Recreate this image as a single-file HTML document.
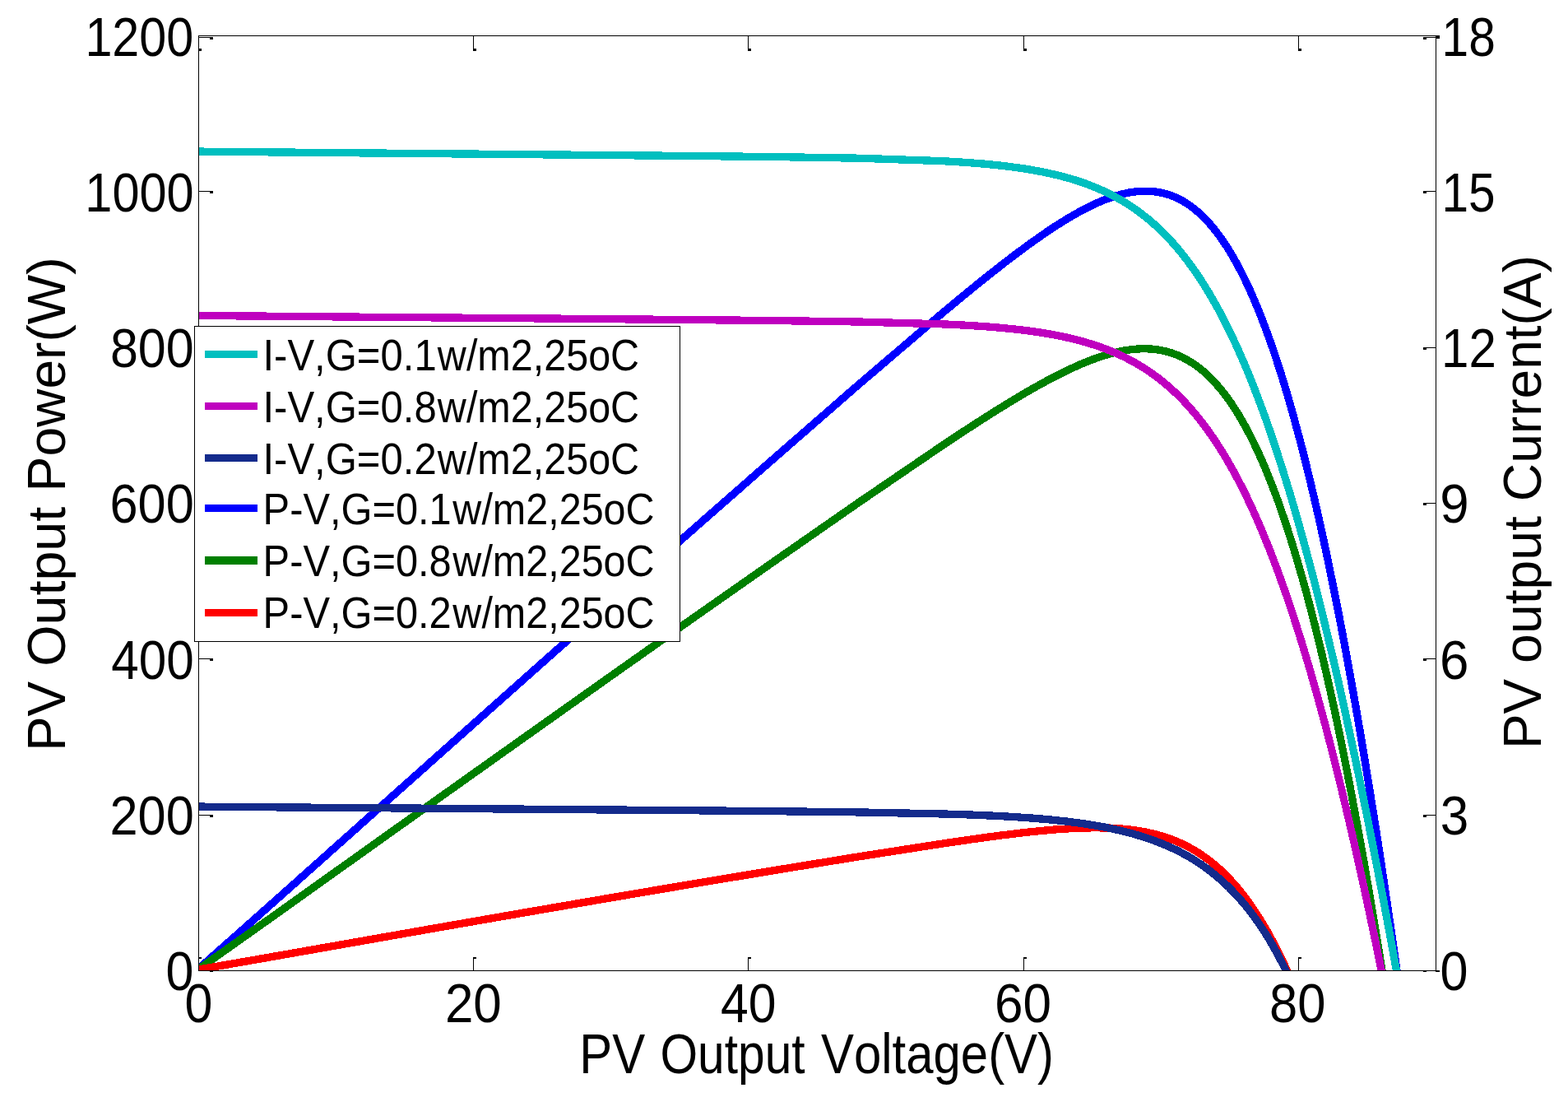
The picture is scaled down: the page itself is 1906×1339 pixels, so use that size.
<!DOCTYPE html>
<html lang="en">
<head>
<meta charset="utf-8">
<title>PV Output Power and Current vs Voltage</title>
<style>
html,body{margin:0;padding:0;background:#fff;}
body{width:1906px;height:1339px;overflow:hidden;}
svg{display:block;}
text{font-family:"Liberation Sans",sans-serif;fill:#000;font-kerning:none;font-variant-ligatures:none;white-space:pre;}
</style>
</head>
<body>
<svg width="1906" height="1339" viewBox="0 0 1906 1339">
<rect x="0" y="0" width="1906" height="1339" fill="#ffffff"/>
<defs><clipPath id="ax"><rect x="241.0" y="43.0" width="1505.0" height="1137.0"/></clipPath></defs>
<g id="curves" fill="none" stroke-width="9.3" stroke-linejoin="round" stroke-linecap="butt" shape-rendering="crispEdges" clip-path="url(#ax)">
<path stroke="#0000ff" d="M241.5 1177.0 L341.8 1088.0 L442.0 998.6 L542.3 909.2 L642.6 820.0 L742.8 731.2 L843.1 642.7 L943.4 554.7 L1043.6 467.4 L1143.9 381.8 L1160.6 367.9 L1165.6 363.7 L1170.7 359.6 L1175.7 355.5 L1180.7 351.4 L1185.7 347.3 L1190.7 343.2 L1195.8 339.2 L1200.8 335.2 L1205.8 331.2 L1210.8 327.3 L1215.9 323.3 L1220.9 319.4 L1225.9 315.6 L1230.9 311.7 L1235.9 307.9 L1241.0 304.2 L1246.0 300.5 L1251.0 296.8 L1256.0 293.2 L1261.1 289.7 L1266.1 286.1 L1271.1 282.7 L1276.1 279.3 L1281.1 276.0 L1286.2 272.8 L1291.2 269.6 L1296.2 266.5 L1301.2 263.5 L1306.3 260.6 L1311.3 257.8 L1316.3 255.1 L1321.3 252.5 L1326.3 250.0 L1331.4 247.6 L1336.4 245.4 L1341.4 243.3 L1346.4 241.4 L1351.5 239.6 L1356.5 238.0 L1361.5 236.5 L1366.5 235.3 L1371.5 234.2 L1376.6 233.4 L1381.6 232.7 L1386.6 232.3 L1391.6 232.2 L1396.6 232.3 L1401.7 232.6 L1406.7 233.3 L1411.7 234.2 L1416.7 235.4 L1421.8 237.0 L1426.8 238.9 L1431.8 241.1 L1436.8 243.7 L1441.8 246.7 L1446.9 250.1 L1451.9 253.9 L1456.9 258.2 L1461.9 262.8 L1467.0 268.0 L1472.0 273.6 L1477.0 279.7 L1482.0 286.3 L1487.0 293.4 L1492.1 301.0 L1497.1 309.2 L1502.1 318.0 L1507.1 327.3 L1512.2 337.3 L1517.2 347.8 L1522.2 358.9 L1527.2 370.7 L1532.2 383.1 L1537.3 396.1 L1542.3 409.8 L1547.3 424.1 L1552.3 439.1 L1557.4 454.8 L1562.4 471.2 L1567.4 488.2 L1572.4 506.0 L1577.4 524.5 L1582.5 543.6 L1587.5 563.5 L1592.5 584.0 L1597.5 605.3 L1602.6 627.3 L1607.6 650.0 L1612.6 673.4 L1617.6 697.6 L1622.6 722.4 L1627.7 748.0 L1632.7 774.2 L1637.7 801.2 L1642.7 828.9 L1647.8 857.3 L1652.8 886.4 L1657.8 916.2 L1662.8 946.7 L1667.8 977.8 L1672.9 1009.7 L1677.9 1042.3 L1682.9 1075.5 L1687.9 1109.5 L1693.0 1144.1 L1698.0 1179.4 L1703.0 1215.3 L1708.0 1251.9"/>
<path stroke="#007f00" d="M241.5 1177.5 L341.8 1106.4 L442.0 1034.9 L542.3 963.5 L642.6 892.3 L742.8 821.3 L843.1 750.6 L943.4 680.4 L1043.6 610.7 L1143.9 542.4 L1160.6 531.3 L1165.5 528.1 L1170.3 524.9 L1175.2 521.7 L1180.0 518.6 L1184.9 515.4 L1189.8 512.3 L1194.6 509.2 L1199.5 506.1 L1204.3 503.0 L1209.2 499.9 L1214.0 496.9 L1218.9 493.9 L1223.8 490.9 L1228.6 488.0 L1233.5 485.0 L1238.3 482.1 L1243.2 479.2 L1248.0 476.4 L1252.9 473.6 L1257.8 470.8 L1262.6 468.1 L1267.5 465.4 L1272.3 462.8 L1277.2 460.2 L1282.0 457.7 L1286.9 455.2 L1291.8 452.8 L1296.6 450.4 L1301.5 448.1 L1306.3 445.9 L1311.2 443.7 L1316.0 441.6 L1320.9 439.6 L1325.8 437.7 L1330.6 435.9 L1335.5 434.2 L1340.3 432.6 L1345.2 431.1 L1350.0 429.7 L1354.9 428.5 L1359.8 427.3 L1364.6 426.3 L1369.5 425.5 L1374.3 424.8 L1379.2 424.3 L1384.0 423.9 L1388.9 423.8 L1393.8 423.8 L1398.6 424.0 L1403.5 424.4 L1408.3 425.1 L1413.2 426.0 L1418.0 427.1 L1422.9 428.5 L1427.8 430.2 L1432.6 432.1 L1437.5 434.3 L1442.3 436.9 L1447.2 439.7 L1452.1 442.9 L1456.9 446.4 L1461.8 450.3 L1466.6 454.6 L1471.5 459.3 L1476.3 464.3 L1481.2 469.8 L1486.1 475.7 L1490.9 482.0 L1495.8 488.8 L1500.6 496.1 L1505.5 503.8 L1510.3 512.1 L1515.2 520.8 L1520.1 530.1 L1524.9 539.9 L1529.8 550.2 L1534.6 561.1 L1539.5 572.6 L1544.3 584.7 L1549.2 597.3 L1554.1 610.5 L1558.9 624.4 L1563.8 638.8 L1568.6 653.9 L1573.5 669.6 L1578.3 685.9 L1583.2 702.9 L1588.1 720.5 L1592.9 738.8 L1597.8 757.7 L1602.6 777.3 L1607.5 797.6 L1612.3 818.5 L1617.2 840.1 L1622.1 862.3 L1626.9 885.2 L1631.8 908.8 L1636.6 933.1 L1641.5 958.0 L1646.3 983.6 L1651.2 1009.9 L1656.1 1036.8 L1660.9 1064.4 L1665.8 1092.7 L1670.6 1121.6 L1675.5 1151.2 L1680.3 1181.5 L1685.2 1212.4 L1690.1 1243.9"/>
<path stroke="#ff0000" d="M241.5 1178.1 L341.8 1160.6 L442.0 1143.0 L542.3 1125.4 L642.6 1108.0 L742.8 1090.8 L843.1 1073.8 L943.4 1057.2 L1043.6 1040.9 L1143.9 1025.3 L1160.6 1022.8 L1164.4 1022.3 L1168.2 1021.7 L1172.0 1021.2 L1175.8 1020.6 L1179.6 1020.1 L1183.4 1019.5 L1187.2 1019.0 L1191.0 1018.5 L1194.8 1018.0 L1198.6 1017.4 L1202.4 1016.9 L1206.2 1016.4 L1210.0 1015.9 L1213.8 1015.4 L1217.6 1014.9 L1221.4 1014.5 L1225.2 1014.0 L1229.0 1013.5 L1232.8 1013.1 L1236.6 1012.6 L1240.4 1012.2 L1244.2 1011.7 L1248.0 1011.3 L1251.8 1010.9 L1255.6 1010.5 L1259.4 1010.1 L1263.2 1009.7 L1267.0 1009.4 L1270.8 1009.0 L1274.6 1008.7 L1278.4 1008.3 L1282.2 1008.0 L1286.0 1007.7 L1289.8 1007.5 L1293.6 1007.2 L1297.4 1007.0 L1301.2 1006.7 L1305.0 1006.5 L1308.7 1006.4 L1312.5 1006.2 L1316.3 1006.1 L1320.1 1006.0 L1323.9 1005.9 L1327.7 1005.8 L1331.5 1005.8 L1335.3 1005.8 L1339.1 1005.9 L1342.9 1005.9 L1346.7 1006.0 L1350.5 1006.2 L1354.3 1006.4 L1358.1 1006.6 L1361.9 1006.9 L1365.7 1007.2 L1369.5 1007.6 L1373.3 1008.0 L1377.1 1008.5 L1380.9 1009.0 L1384.7 1009.6 L1388.5 1010.3 L1392.3 1011.0 L1396.1 1011.8 L1399.9 1012.6 L1403.7 1013.5 L1407.5 1014.5 L1411.3 1015.6 L1415.1 1016.8 L1418.9 1018.1 L1422.7 1019.4 L1426.5 1020.8 L1430.3 1022.4 L1434.1 1024.0 L1437.9 1025.8 L1441.7 1027.6 L1445.5 1029.6 L1449.3 1031.7 L1453.1 1034.0 L1456.9 1036.3 L1460.7 1038.8 L1464.5 1041.5 L1468.3 1044.2 L1472.1 1047.2 L1475.9 1050.3 L1479.7 1053.5 L1483.5 1056.9 L1487.3 1060.5 L1491.1 1064.3 L1494.9 1068.3 L1498.7 1072.4 L1502.5 1076.7 L1506.3 1081.3 L1510.1 1086.0 L1513.9 1090.9 L1517.7 1096.1 L1521.5 1101.5 L1525.3 1107.1 L1529.1 1112.9 L1532.9 1119.0 L1536.7 1125.3 L1540.5 1131.8 L1544.3 1138.6 L1548.1 1145.7 L1551.8 1153.0 L1555.6 1160.6 L1559.4 1168.4 L1563.2 1176.5 L1567.0 1184.9 L1570.8 1193.6 L1574.6 1202.5"/>
<path stroke="#00bfbf" d="M241.5 184.1 L341.8 185.0 L442.0 185.9 L542.3 186.8 L642.6 187.7 L742.8 188.6 L843.1 189.5 L943.4 190.6 L1043.6 192.2 L1143.9 195.6 L1160.6 196.5 L1165.6 196.8 L1170.6 197.2 L1175.7 197.5 L1180.7 197.9 L1185.7 198.3 L1190.7 198.7 L1195.7 199.1 L1200.8 199.6 L1205.8 200.1 L1210.8 200.6 L1215.8 201.1 L1220.8 201.7 L1225.8 202.3 L1230.9 203.0 L1235.9 203.6 L1240.9 204.4 L1245.9 205.1 L1250.9 205.9 L1256.0 206.8 L1261.0 207.7 L1266.0 208.6 L1271.0 209.7 L1276.0 210.7 L1281.0 211.9 L1286.1 213.1 L1291.1 214.3 L1296.1 215.7 L1301.1 217.1 L1306.1 218.6 L1311.1 220.2 L1316.2 221.9 L1321.2 223.7 L1326.2 225.6 L1331.2 227.6 L1336.2 229.8 L1341.3 232.0 L1346.3 234.4 L1351.3 236.9 L1356.3 239.6 L1361.3 242.4 L1366.3 245.3 L1371.4 248.4 L1376.4 251.7 L1381.4 255.2 L1386.4 258.9 L1391.4 262.8 L1396.5 266.8 L1401.5 271.1 L1406.5 275.7 L1411.5 280.4 L1416.5 285.4 L1421.5 290.7 L1426.6 296.2 L1431.6 302.0 L1436.6 308.1 L1441.6 314.5 L1446.6 321.2 L1451.7 328.2 L1456.7 335.5 L1461.7 343.2 L1466.7 351.2 L1471.7 359.5 L1476.7 368.3 L1481.8 377.4 L1486.8 386.9 L1491.8 396.8 L1496.8 407.0 L1501.8 417.7 L1506.8 428.8 L1511.9 440.4 L1516.9 452.3 L1521.9 464.7 L1526.9 477.6 L1531.9 490.8 L1537.0 504.6 L1542.0 518.7 L1547.0 533.4 L1552.0 548.5 L1557.0 564.0 L1562.0 580.0 L1567.1 596.5 L1572.1 613.4 L1577.1 630.8 L1582.1 648.7 L1587.1 667.0 L1592.2 685.8 L1597.2 705.0 L1602.2 724.7 L1607.2 744.9 L1612.2 765.5 L1617.2 786.5 L1622.3 808.0 L1627.3 829.9 L1632.3 852.3 L1637.3 875.0 L1642.3 898.2 L1647.4 921.8 L1652.4 945.8 L1657.4 970.3 L1662.4 995.1 L1667.4 1020.3 L1672.4 1045.9 L1677.5 1071.9 L1682.5 1098.2 L1687.5 1124.9 L1692.5 1152.0 L1697.5 1179.4 L1702.5 1207.2 L1707.6 1235.4"/>
<path stroke="#bf00bf" d="M241.5 383.5 L341.8 384.3 L442.0 385.2 L542.3 386.0 L642.6 386.8 L742.8 387.7 L843.1 388.6 L943.4 389.6 L1043.6 391.0 L1143.9 393.8 L1160.6 394.5 L1165.5 394.8 L1170.3 395.0 L1175.2 395.3 L1180.0 395.6 L1184.9 395.9 L1189.7 396.2 L1194.6 396.5 L1199.4 396.9 L1204.3 397.3 L1209.1 397.7 L1214.0 398.1 L1218.8 398.5 L1223.7 399.0 L1228.5 399.5 L1233.4 400.0 L1238.2 400.5 L1243.1 401.1 L1247.9 401.7 L1252.8 402.3 L1257.6 403.0 L1262.5 403.7 L1267.3 404.5 L1272.2 405.3 L1277.0 406.1 L1281.9 407.0 L1286.7 407.9 L1291.6 408.9 L1296.4 410.0 L1301.3 411.1 L1306.1 412.3 L1311.0 413.5 L1315.8 414.8 L1320.7 416.2 L1325.5 417.7 L1330.4 419.2 L1335.2 420.8 L1340.1 422.6 L1344.9 424.4 L1349.8 426.3 L1354.6 428.3 L1359.5 430.5 L1364.3 432.7 L1369.2 435.1 L1374.0 437.6 L1378.9 440.3 L1383.7 443.1 L1388.6 446.0 L1393.4 449.1 L1398.3 452.4 L1403.1 455.8 L1408.0 459.4 L1412.8 463.2 L1417.7 467.3 L1422.5 471.5 L1427.4 475.9 L1432.2 480.5 L1437.1 485.4 L1441.9 490.5 L1446.8 495.9 L1451.6 501.5 L1456.5 507.4 L1461.3 513.6 L1466.2 520.0 L1471.0 526.8 L1475.9 533.8 L1480.7 541.2 L1485.6 548.9 L1490.4 556.9 L1495.3 565.2 L1500.1 573.9 L1505.0 583.0 L1509.8 592.4 L1514.7 602.2 L1519.5 612.4 L1524.4 622.9 L1529.2 633.9 L1534.1 645.2 L1538.9 657.0 L1543.8 669.1 L1548.6 681.7 L1553.5 694.7 L1558.3 708.1 L1563.2 721.9 L1568.0 736.1 L1572.9 750.8 L1577.7 765.9 L1582.6 781.5 L1587.4 797.4 L1592.3 813.8 L1597.1 830.7 L1602.0 848.0 L1606.8 865.7 L1611.7 883.8 L1616.5 902.3 L1621.4 921.3 L1626.2 940.7 L1631.1 960.6 L1635.9 980.8 L1640.8 1001.5 L1645.6 1022.5 L1650.5 1044.0 L1655.3 1065.9 L1660.2 1088.2 L1665.0 1110.8 L1669.9 1133.9 L1674.7 1157.3 L1679.6 1181.1 L1684.4 1205.3 L1689.3 1229.8"/>
<path stroke="#142b8c" d="M241.5 980.1 L341.8 980.9 L442.0 981.6 L542.3 982.4 L642.6 983.2 L742.8 984.0 L843.1 984.8 L943.4 985.7 L1043.6 986.9 L1143.9 988.9 L1160.6 989.4 L1164.4 989.5 L1168.2 989.6 L1172.0 989.7 L1175.8 989.9 L1179.5 990.0 L1183.3 990.2 L1187.1 990.3 L1190.9 990.5 L1194.7 990.6 L1198.5 990.8 L1202.3 991.0 L1206.0 991.1 L1209.8 991.3 L1213.6 991.5 L1217.4 991.7 L1221.2 991.9 L1225.0 992.1 L1228.8 992.3 L1232.5 992.6 L1236.3 992.8 L1240.1 993.1 L1243.9 993.3 L1247.7 993.6 L1251.5 993.9 L1255.3 994.1 L1259.0 994.4 L1262.8 994.8 L1266.6 995.1 L1270.4 995.4 L1274.2 995.8 L1278.0 996.1 L1281.8 996.5 L1285.5 996.9 L1289.3 997.3 L1293.1 997.7 L1296.9 998.1 L1300.7 998.6 L1304.5 999.1 L1308.3 999.6 L1312.0 1000.1 L1315.8 1000.6 L1319.6 1001.2 L1323.4 1001.8 L1327.2 1002.4 L1331.0 1003.0 L1334.8 1003.7 L1338.5 1004.3 L1342.3 1005.0 L1346.1 1005.8 L1349.9 1006.6 L1353.7 1007.4 L1357.5 1008.2 L1361.3 1009.1 L1365.0 1010.0 L1368.8 1010.9 L1372.6 1011.9 L1376.4 1012.9 L1380.2 1014.0 L1384.0 1015.1 L1387.8 1016.2 L1391.5 1017.4 L1395.3 1018.7 L1399.1 1020.0 L1402.9 1021.4 L1406.7 1022.8 L1410.5 1024.3 L1414.3 1025.8 L1418.0 1027.4 L1421.8 1029.1 L1425.6 1030.8 L1429.4 1032.6 L1433.2 1034.5 L1437.0 1036.5 L1440.8 1038.6 L1444.5 1040.7 L1448.3 1042.9 L1452.1 1045.2 L1455.9 1047.7 L1459.7 1050.2 L1463.5 1052.8 L1467.3 1055.6 L1471.0 1058.4 L1474.8 1061.4 L1478.6 1064.5 L1482.4 1067.7 L1486.2 1071.1 L1490.0 1074.6 L1493.8 1078.2 L1497.5 1082.0 L1501.3 1086.0 L1505.1 1090.1 L1508.9 1094.4 L1512.7 1098.8 L1516.5 1103.5 L1520.3 1108.3 L1524.0 1113.4 L1527.8 1118.6 L1531.6 1124.1 L1535.4 1129.8 L1539.2 1135.7 L1543.0 1141.9 L1546.8 1148.3 L1550.5 1155.0 L1554.3 1162.0 L1558.1 1169.2 L1561.9 1176.8 L1565.7 1184.6 L1569.5 1192.8 L1573.3 1201.3"/>
</g>
<g id="axes" fill="#000" shape-rendering="crispEdges">
<rect x="241" y="43" width="1505" height="1"/>
<rect x="241" y="1179" width="1505" height="1"/>
<rect x="241" y="43" width="1" height="1137"/>
<rect x="1745" y="43" width="1" height="1137"/>
<rect x="242" y="1179" width="17" height="1"/>
<rect x="255" y="1179" width="4" height="2"/>
<rect x="1730" y="1179" width="15" height="1"/>
<rect x="1730" y="1179" width="4" height="2"/>
<rect x="242" y="990" width="17" height="1"/>
<rect x="255" y="990" width="4" height="3"/>
<rect x="1730" y="990" width="15" height="1"/>
<rect x="1730" y="990" width="4" height="3"/>
<rect x="242" y="800" width="17" height="1"/>
<rect x="255" y="800" width="4" height="3"/>
<rect x="1730" y="800" width="15" height="1"/>
<rect x="1730" y="800" width="4" height="3"/>
<rect x="242" y="611" width="17" height="1"/>
<rect x="255" y="611" width="4" height="3"/>
<rect x="1730" y="611" width="15" height="1"/>
<rect x="1730" y="611" width="4" height="3"/>
<rect x="242" y="422" width="17" height="1"/>
<rect x="255" y="422" width="4" height="3"/>
<rect x="1730" y="422" width="15" height="1"/>
<rect x="1730" y="422" width="4" height="3"/>
<rect x="242" y="232" width="17" height="1"/>
<rect x="255" y="232" width="4" height="3"/>
<rect x="1730" y="232" width="15" height="1"/>
<rect x="1730" y="232" width="4" height="3"/>
<rect x="242" y="45" width="17" height="1"/>
<rect x="255" y="45" width="4" height="3"/>
<rect x="1730" y="45" width="15" height="1"/>
<rect x="1730" y="45" width="4" height="3"/>
<rect x="241" y="1163" width="1" height="16"/>
<rect x="241" y="1163" width="4" height="2"/>
<rect x="241" y="44" width="1" height="17"/>
<rect x="241" y="59" width="4" height="3"/>
<rect x="575" y="1163" width="1" height="16"/>
<rect x="575" y="1163" width="4" height="2"/>
<rect x="575" y="44" width="1" height="17"/>
<rect x="575" y="59" width="4" height="3"/>
<rect x="909" y="1163" width="1" height="16"/>
<rect x="909" y="1163" width="4" height="2"/>
<rect x="909" y="44" width="1" height="17"/>
<rect x="909" y="59" width="4" height="3"/>
<rect x="1244" y="1163" width="1" height="16"/>
<rect x="1244" y="1163" width="4" height="2"/>
<rect x="1244" y="44" width="1" height="17"/>
<rect x="1244" y="59" width="4" height="3"/>
<rect x="1578" y="1163" width="1" height="16"/>
<rect x="1578" y="1163" width="4" height="2"/>
<rect x="1578" y="44" width="1" height="17"/>
<rect x="1578" y="59" width="4" height="3"/>
<rect x="1745" y="43" width="5" height="4"/>
<rect x="1745" y="1179" width="5" height="2"/>
</g>
<g id="ticklabels">
<text transform="translate(201.52 1203.30) scale(0.9000 1)" font-size="66.90"><tspan x="0.00" textLength="37.62" lengthAdjust="spacingAndGlyphs">0</tspan></text>
<text transform="translate(1750.51 1203.30) scale(0.9000 1)" font-size="66.90"><tspan x="0.00" textLength="37.75" lengthAdjust="spacingAndGlyphs">0</tspan></text>
<text transform="translate(133.52 1013.97) scale(0.9000 1)" font-size="66.90"><tspan x="0.00" textLength="113.52" lengthAdjust="spacingAndGlyphs">200</tspan></text>
<text transform="translate(1750.84 1013.97) scale(0.9000 1)" font-size="66.90"><tspan x="0.00" textLength="38.32" lengthAdjust="spacingAndGlyphs">3</tspan></text>
<text transform="translate(135.22 824.63) scale(0.9000 1)" font-size="66.90"><tspan x="0.00" textLength="111.59" lengthAdjust="spacingAndGlyphs">400</tspan></text>
<text transform="translate(1749.96 824.63) scale(0.9000 1)" font-size="66.90"><tspan x="0.00" textLength="39.37" lengthAdjust="spacingAndGlyphs">6</tspan></text>
<text transform="translate(133.49 635.30) scale(0.9000 1)" font-size="66.90"><tspan x="0.00" textLength="113.56" lengthAdjust="spacingAndGlyphs">600</tspan></text>
<text transform="translate(1750.22 635.30) scale(0.9000 1)" font-size="66.90"><tspan x="0.00" textLength="39.33" lengthAdjust="spacingAndGlyphs">9</tspan></text>
<text transform="translate(133.95 445.97) scale(0.9000 1)" font-size="66.90"><tspan x="0.00" textLength="113.03" lengthAdjust="spacingAndGlyphs">800</tspan></text>
<text transform="translate(1752.03 445.97) scale(0.9000 1)" font-size="66.90"><tspan x="0.00" textLength="74.22" lengthAdjust="spacingAndGlyphs">12</tspan></text>
<text transform="translate(103.37 256.63) scale(0.9000 1)" font-size="66.90"><tspan x="0.00" textLength="146.95" lengthAdjust="spacingAndGlyphs">1000</tspan></text>
<text transform="translate(1752.54 256.63) scale(0.9000 1)" font-size="66.90"><tspan x="0.00" textLength="72.35" lengthAdjust="spacingAndGlyphs">15</tspan></text>
<text transform="translate(103.38 68.40) scale(0.9000 1)" font-size="66.90"><tspan x="0.00" textLength="146.59" lengthAdjust="spacingAndGlyphs">1200</tspan></text>
<text transform="translate(1752.53 68.40) scale(0.9000 1)" font-size="66.90"><tspan x="0.00" textLength="72.46" lengthAdjust="spacingAndGlyphs">18</tspan></text>
<text transform="translate(224.62 1242.40) scale(0.9000 1)" font-size="66.90"><tspan x="0.00" textLength="37.62" lengthAdjust="spacingAndGlyphs">0</tspan></text>
<text transform="translate(540.88 1242.40) scale(0.9000 1)" font-size="66.90"><tspan x="0.00" textLength="76.60" lengthAdjust="spacingAndGlyphs">20</tspan></text>
<text transform="translate(876.01 1242.40) scale(0.9000 1)" font-size="66.90"><tspan x="0.00" textLength="74.96" lengthAdjust="spacingAndGlyphs">40</tspan></text>
<text transform="translate(1209.05 1242.40) scale(0.9000 1)" font-size="66.90"><tspan x="0.00" textLength="76.63" lengthAdjust="spacingAndGlyphs">60</tspan></text>
<text transform="translate(1543.08 1242.40) scale(0.9000 1)" font-size="66.90"><tspan x="0.00" textLength="76.03" lengthAdjust="spacingAndGlyphs">80</tspan></text>
</g>
<g id="axislabels">
<text transform="translate(704.28 1303.90) scale(0.8800 1)" font-size="68.00"><tspan x="0.00" textLength="90.89" lengthAdjust="spacingAndGlyphs">PV</tspan> <tspan x="111.52" textLength="200.24" lengthAdjust="spacingAndGlyphs">Output</tspan> <tspan x="333.70" textLength="321.68" lengthAdjust="spacingAndGlyphs">Voltage(V)</tspan></text>
<text transform="translate(79.10 912.82) rotate(-90) scale(0.9950 1)" font-size="64.50"><tspan x="0.00" textLength="85.33" lengthAdjust="spacingAndGlyphs">PV</tspan> <tspan x="103.58" textLength="194.96" lengthAdjust="spacingAndGlyphs">Output</tspan> <tspan x="317.04" textLength="286.47" lengthAdjust="spacingAndGlyphs">Power(W)</tspan></text>
<text transform="translate(1873.00 909.93) rotate(-90) scale(0.9950 1)" font-size="64.50"><tspan x="0.00" textLength="85.54" lengthAdjust="spacingAndGlyphs">PV</tspan> <tspan x="104.56" textLength="179.77" lengthAdjust="spacingAndGlyphs">output</tspan> <tspan x="302.29" textLength="300.73" lengthAdjust="spacingAndGlyphs">Current(A)</tspan></text>
</g>
<g id="legend">
<rect x="236" y="396" width="591" height="384" fill="#000" shape-rendering="crispEdges"/><rect x="237" y="397" width="589" height="382" fill="#fff" shape-rendering="crispEdges"/>
<rect x="249" y="426" width="64" height="9" fill="#00bfbf" shape-rendering="crispEdges"/>
<text transform="translate(319.48 450.00) scale(0.9000 1)" font-size="54.10"><tspan x="0.00" textLength="234.62" lengthAdjust="spacingAndGlyphs">I-V,G=0.1</tspan><tspan x="235.99" textLength="272.53" lengthAdjust="spacingAndGlyphs">w/m2,25oC</tspan></text>
<rect x="249" y="489" width="64" height="9" fill="#bf00bf" shape-rendering="crispEdges"/>
<text transform="translate(319.48 512.90) scale(0.9000 1)" font-size="54.10"><tspan x="0.00" textLength="234.62" lengthAdjust="spacingAndGlyphs">I-V,G=0.8</tspan><tspan x="235.99" textLength="272.53" lengthAdjust="spacingAndGlyphs">w/m2,25oC</tspan></text>
<rect x="249" y="552" width="64" height="9" fill="#142b8c" shape-rendering="crispEdges"/>
<text transform="translate(319.48 575.90) scale(0.9000 1)" font-size="54.10"><tspan x="0.00" textLength="234.62" lengthAdjust="spacingAndGlyphs">I-V,G=0.2</tspan><tspan x="235.99" textLength="272.53" lengthAdjust="spacingAndGlyphs">w/m2,25oC</tspan></text>
<rect x="249" y="613" width="64" height="9" fill="#0000ff" shape-rendering="crispEdges"/>
<text transform="translate(319.60 637.00) scale(0.9000 1)" font-size="54.10"><tspan x="0.00" textLength="254.58" lengthAdjust="spacingAndGlyphs">P-V,G=0.1</tspan><tspan x="256.41" textLength="272.47" lengthAdjust="spacingAndGlyphs">w/m2,25oC</tspan></text>
<rect x="249" y="676" width="64" height="10" fill="#007f00" shape-rendering="crispEdges"/>
<text transform="translate(319.60 700.05) scale(0.9000 1)" font-size="54.10"><tspan x="0.00" textLength="254.58" lengthAdjust="spacingAndGlyphs">P-V,G=0.8</tspan><tspan x="256.41" textLength="272.47" lengthAdjust="spacingAndGlyphs">w/m2,25oC</tspan></text>
<rect x="249" y="740" width="64" height="9" fill="#ff0000" shape-rendering="crispEdges"/>
<text transform="translate(319.60 763.00) scale(0.9000 1)" font-size="54.10"><tspan x="0.00" textLength="254.58" lengthAdjust="spacingAndGlyphs">P-V,G=0.2</tspan><tspan x="256.41" textLength="272.47" lengthAdjust="spacingAndGlyphs">w/m2,25oC</tspan></text>
</g>
</svg>
</body>
</html>
